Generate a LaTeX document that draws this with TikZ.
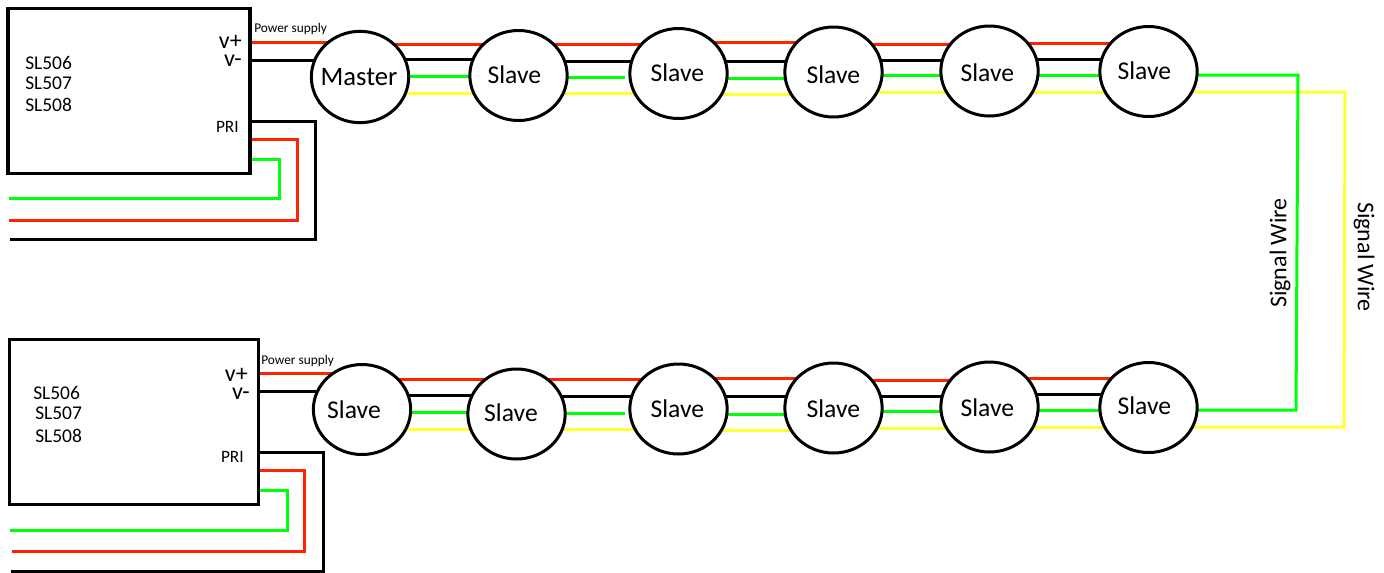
\documentclass[tikz,border=0pt]{standalone}
\usepackage{fontspec}
\setmainfont{Carlito}
\usetikzlibrary{shapes.geometric,backgrounds}
\definecolor{wred}{RGB}{255,34,0}
\definecolor{wgreen}{RGB}{0,255,10}
\definecolor{wyellow}{RGB}{255,255,51}
\tikzset{
  ell/.style={ellipse,draw=black,line width=2.25pt,fill=white,inner sep=0pt,outer sep=0pt,minimum width=73pt,minimum height=67.5pt},
  boxn/.style={rectangle,draw=black,line width=2.3pt,fill=white,inner sep=0pt,outer sep=0pt},
  wire/.style={line width=2.25pt,miter limit=10},
  rw/.style={wire,draw=wred},
  kw/.style={wire,draw=black},
  gw/.style={wire,draw=wgreen},
  yw/.style={wire,draw=wyellow},
  big/.style={inner sep=0pt,yshift=-0.75pt,font=\fontsize{19.2}{22}\selectfont},
  mid/.style={inner sep=0pt,font=\fontsize{14.6}{17}\selectfont},
  port/.style={inner sep=0pt,yshift=-1.5pt,font=\fontsize{18}{18}\selectfont},
  pri/.style={inner sep=0pt,font=\fontsize{13}{16}\selectfont},
  small/.style={inner sep=0pt,font=\fontsize{10}{11}\selectfont},
  sig/.style={inner sep=0pt,font=\fontsize{18}{20}\selectfont},
}
\newcommand{\wirerun}[6]{% a, b, red, black, green, yellow y positions
  \draw[rw] (#1 |- 0,#3) -- (#2 |- 0,#3);
  \draw[kw] (#1 |- 0,#4) -- (#2 |- 0,#4);
  \draw[gw] (#1 |- 0,#5) -- (#2 |- 0,#5);
  \draw[yw] (#1 |- 0,#6) -- (#2 |- 0,#6);
}
\newcommand{\wirerungap}[6]{% same, but the green wire stops short of b
  \draw[rw] (#1.center |- 0,#3) -- (#2.center |- 0,#3);
  \draw[kw] (#1.center |- 0,#4) -- (#2.center |- 0,#4);
  \draw[gw] (#1.center |- 0,#5) -- ([xshift=-3.4pt]#2.west |- 0,#5);
  \draw[yw] (#1.center |- 0,#6) -- (#2.center |- 0,#6);
}
\begin{document}
\begin{tikzpicture}[x=0.75pt,y=-0.75pt]
\useasboundingbox (0,0) rectangle (1384,572);
% boxes
\node[boxn,minimum width=181.5pt,minimum height=123.75pt] (box1) at (129,91) {};
\node[boxn,minimum width=187pt,minimum height=123.75pt] (box2) at (134.2,422) {};
% ellipses
\node[ell,minimum height=68.5pt] (m) at (360,77) {};
\node[ell] (t1) at (518.5,75.5) {};
\node[ell] (t2) at (678.5,73.5) {};
\node[ell] (t3) at (833.5,72) {};
\node[ell] (t4) at (989.5,71) {};
\node[ell] (t5) at (1148.5,71.5) {};
\node[ell] (b0) at (362,409.5) {};
\node[ell] (b1) at (516.5,414) {};
\node[ell] (b2) at (678.5,409) {};
\node[ell] (b3) at (833.5,408) {};
\node[ell] (b4) at (989.5,407) {};
\node[ell] (b5) at (1148.5,407.5) {};
% free wire ends
\coordinate (kend1) at (10,239.5);
\coordinate (rend1) at (9,220);
\coordinate (gend1) at (9,198);
\coordinate (kend2) at (11,571);
\coordinate (rend2) at (12,551);
\coordinate (gend2) at (10,530);
\begin{scope}[on background layer]
  \draw[rw] (box1.east |- 0,42.5) -- (m.center |- 0,42.5);
  \draw[kw] (box1.east |- 0,60) -- (m.center |- 0,60);
  \draw[rw] (box2.east |- 0,373) -- (b0.center |- 0,373);
  \draw[kw] (box2.east |- 0,391) -- (b0.center |- 0,391);
  \wirerun{m.center}{t1.center}{44}{59.5}{76}{93}
  \wirerungap{t1}{t2}{44}{61}{77}{93}
  \wirerun{t2.center}{t3.center}{42.5}{61.5}{78}{94}
  \wirerun{t3.center}{t4.center}{44}{60}{75}{92}
  \wirerun{t4.center}{t5.center}{43}{59}{75}{92}
  \wirerun{b0.center}{b1.center}{379}{395}{412}{429}
  \wirerungap{b1}{b2}{379}{396}{413}{429}
  \wirerun{b2.center}{b3.center}{378}{396}{414}{430}
  \wirerun{b3.center}{b4.center}{380}{396}{411}{428}
  \wirerun{b4.center}{b5.center}{378}{394}{410}{427}
  % signal wires between the rows
  \draw[yw] (t5.center |- 0,92) -- (1345,92) -- (1344,427) -- (b5.center |- 0,427);
  \draw[gw] (t5.center |- 0,75) -- (1298,75) -- (1296,410) -- (b5.center |- 0,410);
  % PRI wires
  \draw[kw] (box1.east |- 0,121.5) -- (315,121.5) -- (315,239.5) -- (kend1);
  \draw[rw] (box1.east |- 0,139.5) -- (297,139.5) -- (297,220) -- (rend1);
  \draw[gw] (box1.east |- 0,159.5) -- (279,159.5) -- (279,198) -- (gend1);
  \draw[kw] (box2.east |- 0,452.5) -- (323,452.5) -- (323,571) -- (kend2);
  \draw[rw] (box2.east |- 0,470) -- (304.5,470) -- (304.5,551) -- (rend2);
  \draw[gw] (box2.east |- 0,490) -- (287.5,490) -- (287.5,530) -- (gend2);
\end{scope}
% circle labels
\node[big,font=\fontsize{20}{24}\selectfont] (lm) at (359,76) {Master};
\node[big] (lt1) at (514.3,74) {Slave};
\node[big] (lt2) at (677.3,72) {Slave};
\node[big] (lt3) at (833.3,73.5) {Slave};
\node[big] (lt4) at (987.3,72) {Slave};
\node[big] (lt5) at (1144.3,70) {Slave};
\node[big] (lb0) at (354,408.5) {Slave};
\node[big] (lb1) at (511,411.7) {Slave};
\node[big] (lb2) at (677.3,407.3) {Slave};
\node[big] (lb3) at (833.3,408) {Slave};
\node[big] (lb4) at (987.3,406.7) {Slave};
\node[big] (lb5) at (1144.3,405) {Slave};
% box labels
\node[mid,anchor=west] (a1) at (25,63) {SL506};
\node[mid,anchor=west] (a2) at (25,83) {SL507};
\node[mid,anchor=west] (a3) at (25,105) {SL508};
\node[mid,anchor=west] (c1) at (33,393) {SL506};
\node[mid,anchor=west] (c2) at (35,413) {SL507};
\node[mid,anchor=west] (c3) at (35,436) {SL508};
\node[port,anchor=east] (vp1) at (242,40) {v+};
\node[port,anchor=east] (vm1) at (242,59) {v-};
\node[pri,anchor=east] (pr1) at (239,127) {PRI};
\node[port,anchor=east] (vp2) at (248,373) {v+};
\node[port,anchor=east] (vm2) at (250,392) {v-};
\node[pri,anchor=east] (pr2) at (244,457) {PRI};
\node[small,anchor=west] (ps1) at (254,29) {Power supply};
\node[small,anchor=west] (ps2) at (261,361) {Power supply};
\node[sig,rotate=90] (s1) at (1280,253) {Signal Wire};
\node[sig,rotate=-90] (s2) at (1364,257) {Signal Wire};
\end{tikzpicture}
\end{document}
